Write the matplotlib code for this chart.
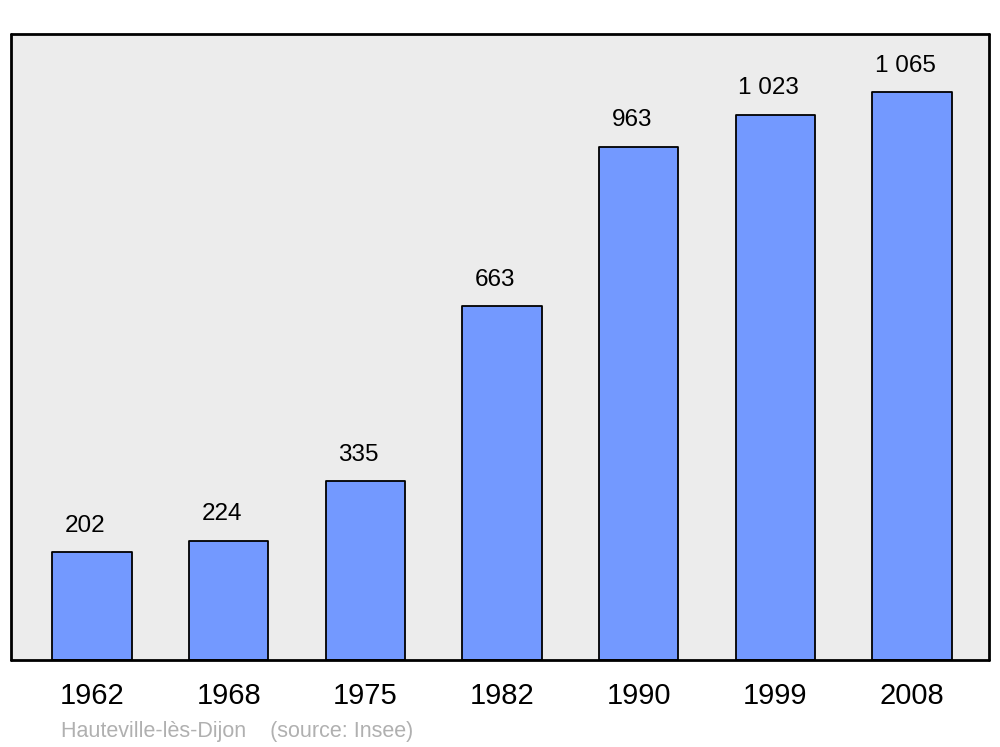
import matplotlib
matplotlib.use("Agg")
import matplotlib.pyplot as plt

plt.rcParams['font.family'] = ['Liberation Sans', 'DejaVu Sans']

# Données de population
years = ["1962", "1968", "1975", "1982", "1990", "1999", "2008"]
population = [202, 224, 335, 663, 963, 1023, 1065]
labels = ["202", "224", "335", "663", "963", "1 023", "1 065"]

fig = plt.figure(figsize=(10, 7.47), dpi=100)
ax = fig.add_axes([0.011, 1 - 660 / 747, 0.978, 626 / 747])
ax.set_facecolor("#ececec")

bars = ax.bar(range(len(years)), population, width=0.58,
              color="#7399ff", edgecolor="black", linewidth=1.3,
              joinstyle="round")

# Étiquettes au-dessus des barres
for i, (v, lab) in enumerate(zip(population, labels)):
    ax.annotate(lab, (i, v), xytext=(-5, 14.5), textcoords="offset points",
                ha="center", va="baseline", fontsize=17.5)

ax.set_xlim(-0.593, 6.563)
ax.set_ylim(0, 1174)
ax.set_xticks(range(len(years)))
ax.set_xticklabels(years, fontsize=21)
ax.tick_params(axis="x", length=0, pad=16)
ax.set_yticks([])
for s in ax.spines.values():
    s.set_linewidth(2)
    s.set_capstyle("round")
    s.set_joinstyle("round")

fig.text(0.061, 1 - 731 / 747, "Hauteville-lès-Dijon    (source: Insee)",
         color="#b0b0b0", fontsize=15.5, va="center", ha="left")

fig.savefig("out.png", dpi=100)
